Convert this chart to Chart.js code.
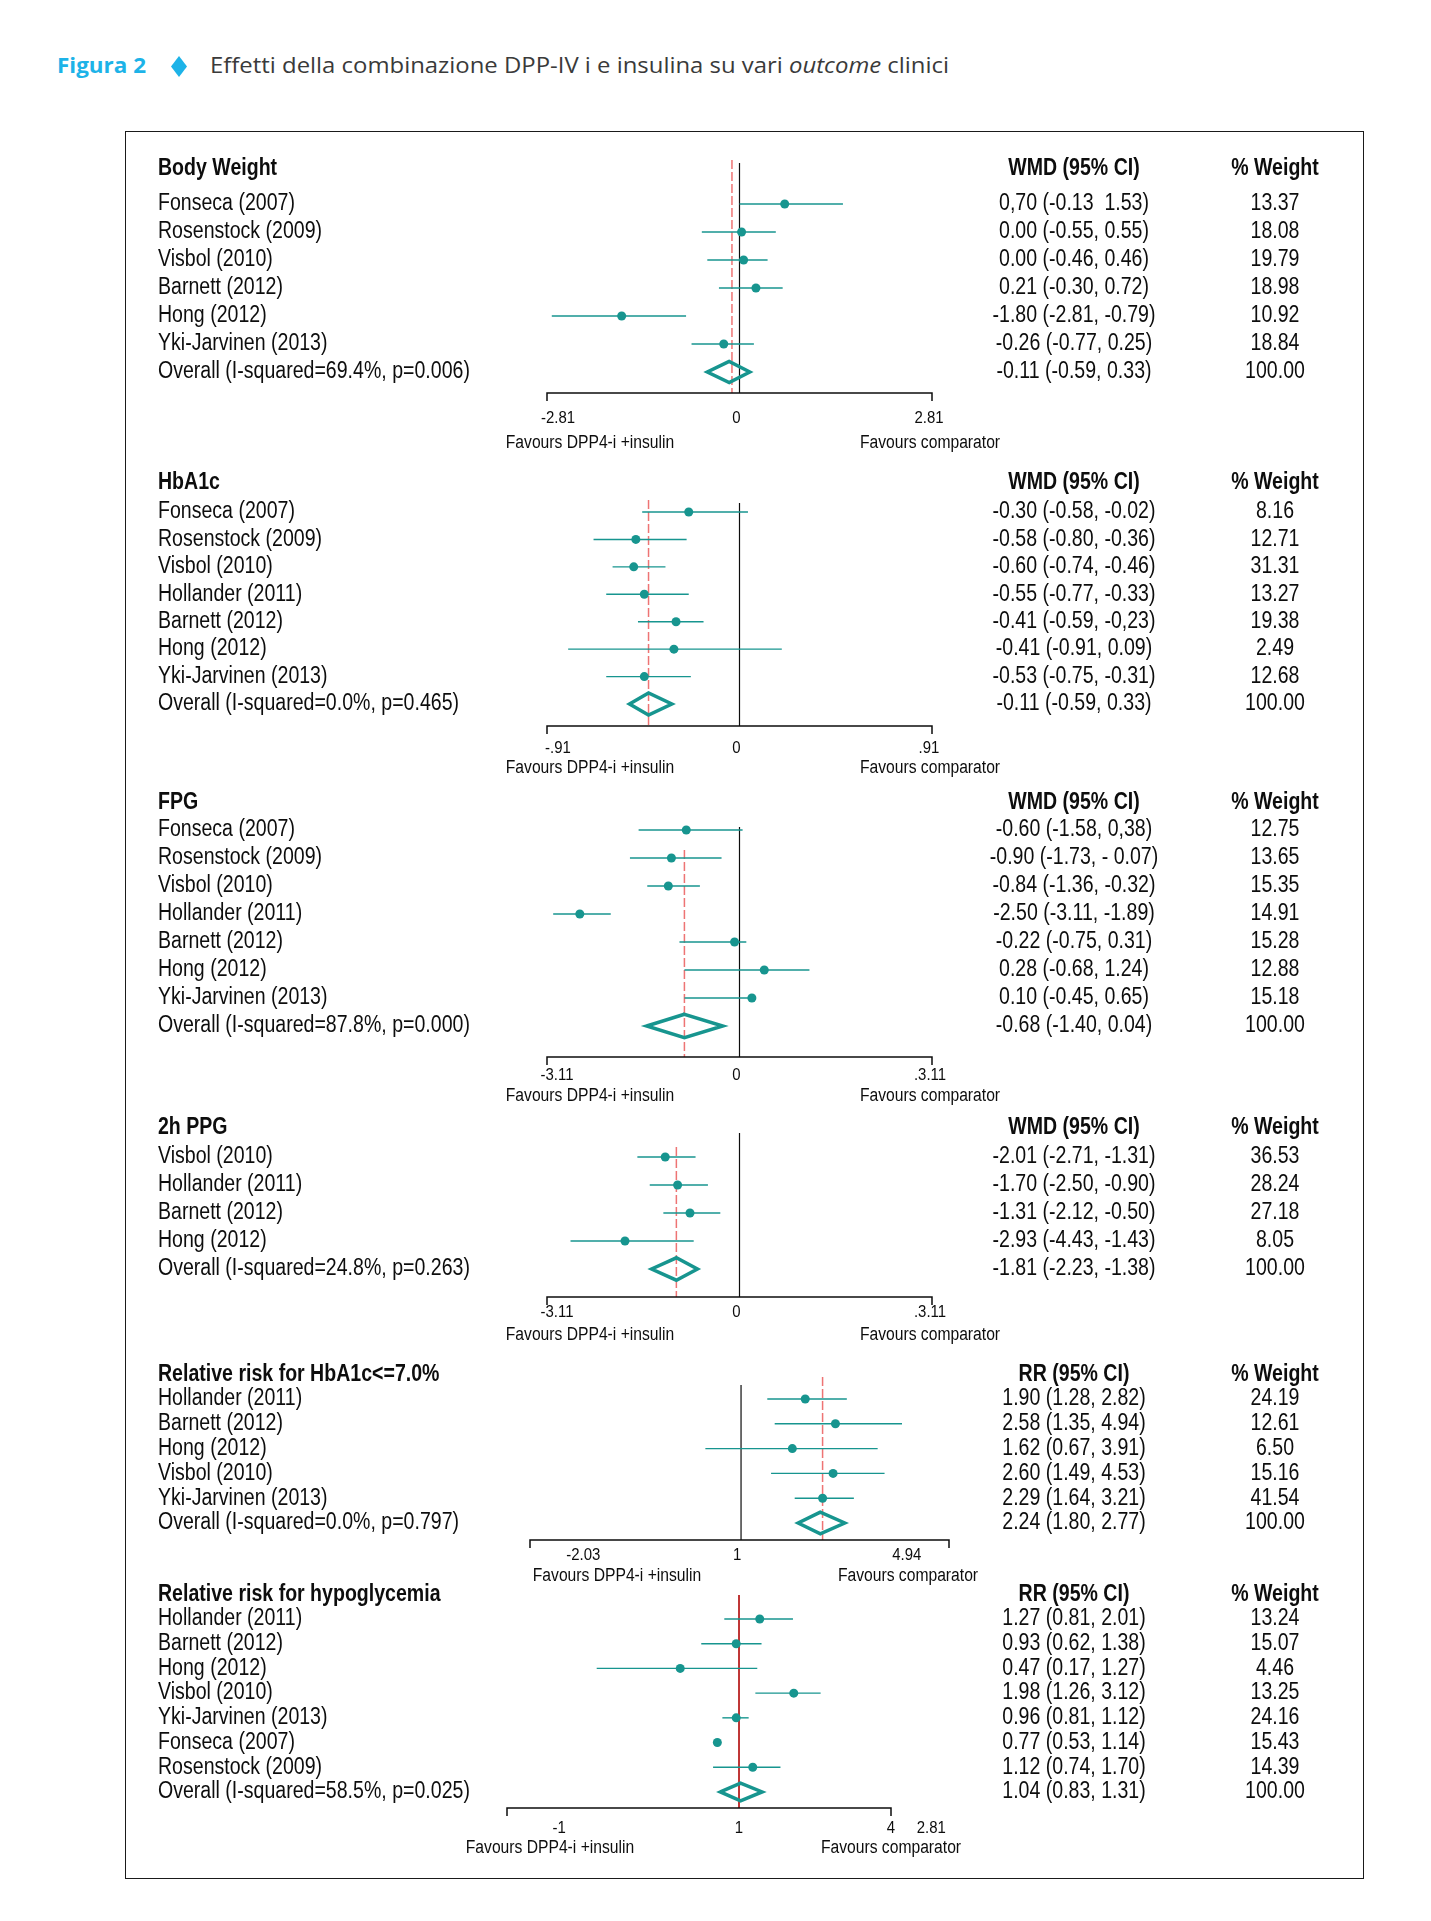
<!DOCTYPE html>
<html lang="it">
<head>
<meta charset="utf-8">
<title>Figura 2</title>
<script src="https://cdn.jsdelivr.net/npm/chart.js@4.4.1/dist/chart.umd.min.js"></script>
<style>
  html, body { margin: 0; padding: 0; background: #fff; }
  body { width: 1431px; height: 1921px; position: relative; overflow: hidden; }
  .ttl { position: absolute; top: 55px; font-family: 'Open Sans', sans-serif; font-size: 21px; line-height: 21px; white-space: nowrap; transform-origin: left center; }
  #fig { left: 57px; color: #1db3e8; font-weight: bold; }
  #cap { left: 210px; color: #3a3a3a; }
  #bullet { position: absolute; left: 171px; top: 56px; width: 16px; height: 21px; background: #1db3e8; clip-path: polygon(50% 0, 100% 50%, 50% 100%, 0 50%); }
  #frame { position: absolute; left: 125px; top: 131px; width: 1237px; height: 1746px; border: 1.5px solid #1a1a1a; }
  canvas.panel { position: absolute; left: 125px; }
</style>
</head>
<body>
<div id="fig" class="ttl">Figura 2</div>
<div id="bullet"></div>
<div id="cap" class="ttl">Effetti della combinazione DPP-IV i e insulina su vari <i>outcome</i> clinici</div>
<div id="frame"></div>

<script>
const TEAL = '#17958f';
const INK = '#0d0d0d';

// ---- Body Weight (WMD) ----
const bwStudies = ['Fonseca (2007)', 'Rosenstock (2009)', 'Visbol (2010)', 'Barnett (2012)', 'Hong (2012)', 'Yki-Jarvinen (2013)'];
const bwEst = [0.66, 0.03, 0.06, 0.24, -1.72, -0.23];
const bwLo  = [0.00, -0.55, -0.47, -0.30, -2.74, -0.70];
const bwHi  = [1.51, 0.53, 0.41, 0.63, -0.78, 0.21];
const bwPooled = [-0.15, -0.47, 0.15];
const bwRef = -0.11;
const bwOverall = 'Overall (I-squared=69.4%, p=0.006)';
const bwCiText = ['0,70 (-0.13  1.53)', '0.00 (-0.55, 0.55)', '0.00 (-0.46, 0.46)', '0.21 (-0.30, 0.72)', '-1.80 (-2.81, -0.79)', '-0.26 (-0.77, 0.25)', '-0.11 (-0.59, 0.33)'];
const bwWeights = ['13.37', '18.08', '19.79', '18.98', '10.92', '18.84', '100.00'];
const bwTicks = [-2.81, 0, 2.81];
const bwTickText = ['-2.81', '0', '2.81'];

// ---- HbA1c (WMD) ----
const hbStudies = ['Fonseca (2007)', 'Rosenstock (2009)', 'Visbol (2010)', 'Hollander (2011)', 'Barnett (2012)', 'Hong (2012)', 'Yki-Jarvinen (2013)'];
const hbEst = [-0.24, -0.49, -0.50, -0.45, -0.30, -0.31, -0.45];
const hbLo  = [-0.46, -0.69, -0.60, -0.63, -0.48, -0.81, -0.63];
const hbHi  = [0.04, -0.25, -0.35, -0.24, -0.17, 0.20, -0.23];
const hbPooled = [-0.43, -0.52, -0.32];
const hbRef = -0.43;
const hbOverall = 'Overall (I-squared=0.0%, p=0.465)';
const hbCiText = ['-0.30 (-0.58, -0.02)', '-0.58 (-0.80, -0.36)', '-0.60 (-0.74, -0.46)', '-0.55 (-0.77, -0.33)', '-0.41 (-0.59, -0,23)', '-0.41 (-0.91, 0.09)', '-0.53 (-0.75, -0.31)', '-0.11 (-0.59, 0.33)'];
const hbWeights = ['8.16', '12.71', '31.31', '13.27', '19.38', '2.49', '12.68', '100.00'];
const hbTicks = [-0.91, 0, 0.91];
const hbTickText = ['-.91', '0', '.91'];

// ---- FPG (WMD) ----
const fpgStudies = ['Fonseca (2007)', 'Rosenstock (2009)', 'Visbol (2010)', 'Hollander (2011)', 'Barnett (2012)', 'Hong (2012)', 'Yki-Jarvinen (2013)'];
const fpgEst = [-0.86, -1.10, -1.15, -2.58, -0.08, 0.40, 0.20];
const fpgLo  = [-1.63, -1.77, -1.49, -3.01, -0.97, -0.89, -0.89];
const fpgHi  = [0.05, -0.29, -0.64, -2.08, 0.11, 1.13, 0.23];
const fpgPooled = [-0.89, -1.50, -0.27];
const fpgRef = -0.89;
const fpgOverall = 'Overall (I-squared=87.8%, p=0.000)';
const fpgCiText = ['-0.60 (-1.58, 0,38)', '-0.90 (-1.73, - 0.07)', '-0.84 (-1.36, -0.32)', '-2.50 (-3.11, -1.89)', '-0.22 (-0.75, 0.31)', '0.28 (-0.68, 1.24)', '0.10 (-0.45, 0.65)', '-0.68 (-1.40, 0.04)'];
const fpgWeights = ['12.75', '13.65', '15.35', '14.91', '15.28', '12.88', '15.18', '100.00'];
const fpgTicks = [-3.11, 0, 3.11];
const fpgTickText = ['-3.11', '0', '.3.11'];

// ---- 2h PPG (WMD) ----
const ppgStudies = ['Visbol (2010)', 'Hollander (2011)', 'Barnett (2012)', 'Hong (2012)'];
const ppgEst = [-1.20, -1.00, -0.80, -1.85];
const ppgLo  = [-1.65, -1.45, -1.23, -2.73];
const ppgHi  = [-0.71, -0.51, -0.31, -0.74];
const ppgPooled = [-1.02, -1.42, -0.68];
const ppgRef = -1.02;
const ppgOverall = 'Overall (I-squared=24.8%, p=0.263)';
const ppgCiText = ['-2.01 (-2.71, -1.31)', '-1.70 (-2.50, -0.90)', '-1.31 (-2.12, -0.50)', '-2.93 (-4.43, -1.43)', '-1.81 (-2.23, -1.38)'];
const ppgWeights = ['36.53', '28.24', '27.18', '8.05', '100.00'];
const ppgTicks = [-3.11, 0, 3.11];
const ppgTickText = ['-3.11', '0', '.3.11'];

// ---- RR HbA1c <= 7.0% ----
const rrStudies = ['Hollander (2011)', 'Barnett (2012)', 'Hong (2012)', 'Visbol (2010)', 'Yki-Jarvinen (2013)'];
const rrEst = [1.90, 2.57, 1.67, 2.51, 2.26];
const rrLo  = [1.30, 1.40, 0.70, 1.35, 1.71];
const rrHi  = [2.88, 5.00, 3.92, 4.20, 3.09];
const rrPooled = [2.21, 1.77, 2.82];
const rrRef = 2.26;
const rrOverall = 'Overall (I-squared=0.0%, p=0.797)';
const rrCiText = ['1.90 (1.28, 2.82)', '2.58 (1.35, 4.94)', '1.62 (0.67, 3.91)', '2.60 (1.49, 4.53)', '2.29 (1.64, 3.21)', '2.24 (1.80, 2.77)'];
const rrWeights = ['24.19', '12.61', '6.50', '15.16', '41.54', '100.00'];
const rrTicks = [0.2024, 1, 4.94];
const rrTickText = ['-2.03', '1', '4.94'];

// ---- RR hypoglycemia ----
const hyStudies = ['Hollander (2011)', 'Barnett (2012)', 'Hong (2012)', 'Visbol (2010)', 'Yki-Jarvinen (2013)', 'Fonseca (2007)', 'Rosenstock (2009)'];
const hyEst = [1.30, 0.965, 0.475, 2.00, 0.965, 0.76, 1.19];
const hyLo  = [0.83, 0.62, 0.165, 1.23, 0.81, null, 0.72];
const hyHi  = [1.98, 1.33, 1.26, 2.81, 1.13, null, 1.69];
const hyPooled = [1.02, 0.79, 1.34];
const hyRef = 1.0;
const hyOverall = 'Overall (I-squared=58.5%, p=0.025)';
const hyCiText = ['1.27 (0.81, 2.01)', '0.93 (0.62, 1.38)', '0.47 (0.17, 1.27)', '1.98 (1.26, 3.12)', '0.96 (0.81, 1.12)', '0.77 (0.53, 1.14)', '1.12 (0.74, 1.70)', '1.04 (0.83, 1.31)'];
const hyWeights = ['13.24', '15.07', '4.46', '13.25', '24.16', '15.43', '14.39', '100.00'];
const hyTicks = [0.1025, 1, 6.85, 11.4];
const hyTickText = ['-1', '1', '4', '2.81'];

const FAV_L = 'Favours DPP4-i +insulin';
const FAV_R = 'Favours comparator';

// page-pixel layout of each block (frame starts at x=125)
const panels = [
  { header: 'Body Weight', col: 'WMD (95% CI)', studies: bwStudies, est: bwEst, lo: bwLo, hi: bwHi, pooled: bwPooled, ref: bwRef, overall: bwOverall, ci: bwCiText, w: bwWeights, ticks: bwTicks, tickText: bwTickText,
    type: 'linear', xMin: -2.81, xMax: 2.81, nullAt: 0,
    lay: { top: 140, bottom: 458, row1: 204, step: 28, head: 169, axisY: 393, tickY: 418, favY: 443, axisL: 547, axisR: 932, nullTop: 163, redTop: 160, favL: 590, favR: 930, dash: true, dh: 0.38, tickDx: [11, -3, -3] } },
  { header: 'HbA1c', col: 'WMD (95% CI)', studies: hbStudies, est: hbEst, lo: hbLo, hi: hbHi, pooled: hbPooled, ref: hbRef, overall: hbOverall, ci: hbCiText, w: hbWeights, ticks: hbTicks, tickText: hbTickText,
    type: 'linear', xMin: -0.91, xMax: 0.91, nullAt: 0,
    lay: { top: 466, bottom: 782, row1: 512, step: 27.43, head: 483, axisY: 726, tickY: 748, favY: 768, axisL: 547, axisR: 932, nullTop: 503, redTop: 500, favL: 590, favR: 930, dash: true, dh: 0.4, tickDx: [11, -3, -3] } },
  { header: 'FPG', col: 'WMD (95% CI)', studies: fpgStudies, est: fpgEst, lo: fpgLo, hi: fpgHi, pooled: fpgPooled, ref: fpgRef, overall: fpgOverall, ci: fpgCiText, w: fpgWeights, ticks: fpgTicks, tickText: fpgTickText,
    type: 'linear', xMin: -3.11, xMax: 3.11, nullAt: 0,
    lay: { top: 786, bottom: 1110, row1: 830, step: 28, head: 803, axisY: 1057, tickY: 1075, favY: 1096, axisL: 547, axisR: 932, nullTop: 827, redTop: 850, favL: 590, favR: 930, dash: true, dh: 0.42, tickDx: [10, -3, -2] } },
  { header: '2h PPG', col: 'WMD (95% CI)', studies: ppgStudies, est: ppgEst, lo: ppgLo, hi: ppgHi, pooled: ppgPooled, ref: ppgRef, overall: ppgOverall, ci: ppgCiText, w: ppgWeights, ticks: ppgTicks, tickText: ppgTickText,
    type: 'linear', xMin: -3.11, xMax: 3.11, nullAt: 0,
    lay: { top: 1112, bottom: 1350, row1: 1157, step: 28, head: 1128, axisY: 1297, tickY: 1312, favY: 1335, axisL: 547, axisR: 932, nullTop: 1133, redTop: 1147, favL: 590, favR: 930, dash: true, dh: 0.4, tickDx: [10, -3, -2] } },
  { header: 'Relative risk for HbA1c<=7.0%', col: 'RR (95% CI)', studies: rrStudies, est: rrEst, lo: rrLo, hi: rrHi, pooled: rrPooled, ref: rrRef, overall: rrOverall, ci: rrCiText, w: rrWeights, ticks: rrTicks, tickText: rrTickText,
    type: 'logarithmic', xMin: 0.1212, xMax: 8.0, nullAt: 1,
    lay: { top: 1360, bottom: 1590, row1: 1399, step: 24.8, head: 1375, axisY: 1540, tickY: 1555, favY: 1576, axisL: 530, axisR: 949, nullTop: 1385, redTop: 1377, favL: 617, favR: 908, dash: true, dh: 0.44, tickDx: [2, -4, 6] } },
  { header: 'Relative risk for hypoglycemia', col: 'RR (95% CI)', studies: hyStudies, est: hyEst, lo: hyLo, hi: hyHi, pooled: hyPooled, ref: hyRef, overall: hyOverall, ci: hyCiText, w: hyWeights, ticks: hyTicks, tickText: hyTickText,
    type: 'logarithmic', xMin: 0.053, xMax: 6.85, nullAt: 1,
    lay: { top: 1582, bottom: 1870, row1: 1619, step: 24.71, head: 1595, axisY: 1808, tickY: 1828, favY: 1848, axisL: 507, axisR: 891, nullTop: 1595, redTop: 1595, favL: 550, favR: 891, dash: false, dh: 0.36, tickDx: [0, 0, 0, 0] } }
];

const FRAME_X = 125;
const CANVAS_W = 1241;
const FS = 23, SX = 0.85;   // body text size and horizontal squeeze (condensed face)

function rowOf(lay, py) {
    return 1 + (py - lay.row1) / lay.step;
}

function txt(ctx, s, x, y, size, bold, align, sx) {
    ctx.save();
    ctx.font = (bold ? 'bold ' : '') + size + 'px "Liberation Sans", Arial, sans-serif';
    ctx.fillStyle = INK;
    ctx.textAlign = align;
    ctx.textBaseline = 'middle';
    ctx.translate(x, y);
    ctx.scale(sx, 1);
    ctx.fillText(s, 0, 0);
    ctx.restore();
}

function forestText(p) {
    return {
        id: 'forestText',
        afterDatasetsDraw(chart) {
            const ctx = chart.ctx;
            const xs = chart.scales.x, ys = chart.scales.y;
            const lay = p.lay;
            const nameX = 158 - FRAME_X, ciX = 1074 - FRAME_X, wX = 1275 - FRAME_X;

            // header row
            const hy = ys.getPixelForValue(rowOf(lay, lay.head));
            txt(ctx, p.header, nameX, hy, FS, true, 'left', SX);
            txt(ctx, p.col, ciX, hy, FS, true, 'center', SX);
            txt(ctx, '% Weight', wX, hy, FS, true, 'center', SX);

            // study rows + overall
            const names = p.studies.concat([p.overall]);
            names.forEach((s, i) => {
                const y = ys.getPixelForValue(i + 1);
                txt(ctx, s, nameX, y, FS, false, 'left', SX);
                txt(ctx, p.ci[i], ciX, y, FS, false, 'center', SX);
                txt(ctx, p.w[i], wX, y, FS, false, 'center', SX);
            });

            // x axis with end ticks
            const ay = ys.getPixelForValue(rowOf(lay, lay.axisY));
            const x0 = xs.getPixelForValue(p.xMin), x1 = xs.getPixelForValue(p.xMax);
            ctx.save();
            ctx.strokeStyle = INK;
            ctx.lineWidth = 1.5;
            ctx.beginPath();
            ctx.moveTo(x0, ay + 8); ctx.lineTo(x0, ay); ctx.lineTo(x1, ay); ctx.lineTo(x1, ay + 8);
            ctx.stroke();
            ctx.restore();

            const ty = lay.tickY - lay.top;
            p.ticks.forEach((v, i) => {
                txt(ctx, p.tickText[i], xs.getPixelForValue(v) + lay.tickDx[i], ty, 17, false, 'center', 0.88);
            });
            const fy = lay.favY - lay.top;
            txt(ctx, FAV_L, lay.favL - FRAME_X, fy, 18, false, 'center', 0.87);
            txt(ctx, FAV_R, lay.favR - FRAME_X, fy, 18, false, 'center', 0.87);
        }
    };
}

function buildDatasets(p) {
    const lay = p.lay;
    const sets = [];
    const n = p.studies.length;
    const yAxis = rowOf(lay, lay.axisY);

    sets.push({
        data: p.est.map((v, i) => ({ x: v, y: i + 1 })),
        showLine: false, pointRadius: 4.5, pointBackgroundColor: TEAL, pointBorderWidth: 0, order: 1
    });

    p.lo.forEach((lo, i) => {
        if (lo === null) return;   // CI line not drawn in the original
        sets.push({
            data: [{ x: lo, y: i + 1 }, { x: p.hi[i], y: i + 1 }],
            showLine: true, borderColor: TEAL, borderWidth: 1.4, pointRadius: 0, order: 2
        });
    });

    const r = n + 1, h = lay.dh;
    const [pe, pl, ph] = p.pooled;
    sets.push({
        data: [{ x: pl, y: r }, { x: pe, y: r - h }, { x: ph, y: r }, { x: pe, y: r + h }, { x: pl, y: r }, { x: pe, y: r - h }],
        showLine: true, borderColor: TEAL, borderWidth: 3.5, borderJoinStyle: 'miter', pointRadius: 0, order: 2
    });

    sets.push({
        data: [{ x: p.ref, y: rowOf(lay, lay.redTop) }, { x: p.ref, y: yAxis }],
        showLine: true, pointRadius: 0, order: 3,
        borderColor: lay.dash ? 'rgba(232,70,70,0.75)' : '#d42a2a',
        borderWidth: lay.dash ? 1.5 : 1.6,
        borderDash: lay.dash ? [9, 3] : []
    });

    sets.push({
        data: [{ x: p.nullAt, y: rowOf(lay, lay.nullTop) }, { x: p.nullAt, y: yAxis }],
        showLine: true, pointRadius: 0, borderColor: INK, borderWidth: 1.2, order: 4
    });
    return sets;
}

panels.forEach(p => {
    const lay = p.lay;
    const cv = document.createElement('canvas');
    cv.className = 'panel';
    cv.width = CANVAS_W;
    cv.height = lay.bottom - lay.top;
    cv.style.top = lay.top + 'px';
    document.body.appendChild(cv);

    const yTop = Math.min(lay.nullTop, lay.redTop);

    new Chart(cv.getContext('2d'), {
        type: 'scatter',
        data: { datasets: buildDatasets(p) },
        options: {
            responsive: false,
            animation: false,
            events: [],
            layout: {
                padding: {
                    left: lay.axisL - FRAME_X,
                    right: FRAME_X + CANVAS_W - lay.axisR,
                    top: yTop - lay.top,
                    bottom: lay.bottom - lay.axisY
                }
            },
            datasets: { scatter: { clip: false } },
            plugins: { legend: { display: false }, tooltip: { enabled: false } },
            scales: {
                x: { type: p.type, min: p.xMin, max: p.xMax, bounds: 'data', display: false },
                y: { type: 'linear', reverse: true, min: rowOf(lay, yTop), max: rowOf(lay, lay.axisY), display: false }
            }
        },
        plugins: [forestText(p)]
    });
});

// fit the heading lines to the measured widths of the printed title
function fitWidth(id, target) {
    const el = document.getElementById(id);
    const w = el.getBoundingClientRect().width;
    if (w > 0) el.style.transform = 'scaleX(' + (target / w) + ')';
}
fitWidth('fig', 89);
fitWidth('cap', 739);
</script>
</body>
</html>
